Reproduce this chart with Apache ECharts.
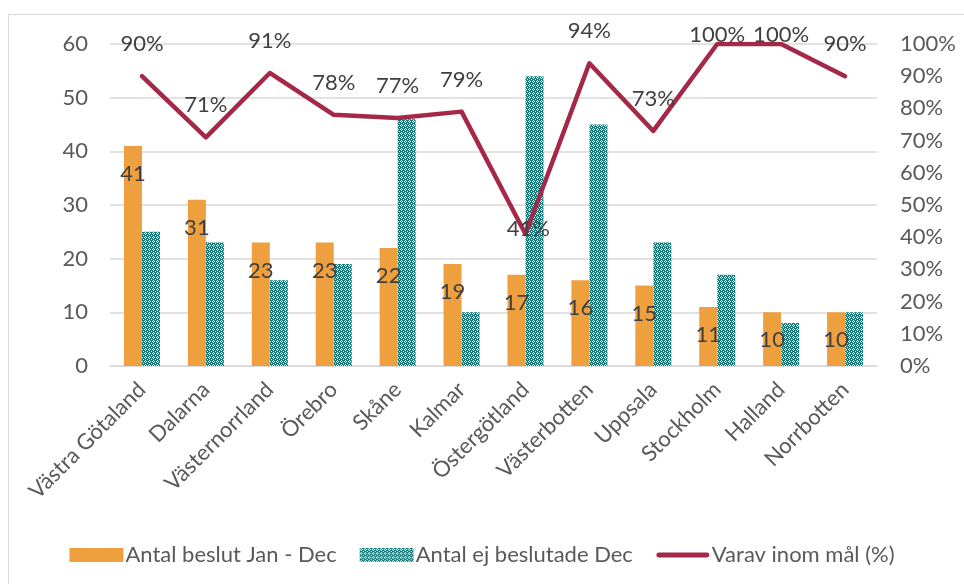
<!DOCTYPE html>
<html>
<head>
<meta charset="utf-8">
<script src="https://cdn.jsdelivr.net/npm/echarts@6/dist/echarts.min.js"></script>
<style>
  html, body { margin: 0; padding: 0; background: #fff; }
  #chart { width: 964px; height: 584px; }
</style>
</head>
<body>
<div id="chart"></div>
<script>
// regions, sorted by number of decisions
var regions = ['Västra Götaland', 'Dalarna', 'Västernorrland', 'Örebro', 'Skåne', 'Kalmar',
               'Östergötland', 'Västerbotten', 'Uppsala', 'Stockholm', 'Halland', 'Norrbotten'];
var beslut = [41, 31, 23, 23, 22, 19, 17, 16, 15, 11, 10, 10];
var ejBeslutade = [25, 23, 16, 19, 46, 10, 54, 45, 23, 17, 8, 10];
var inomMal = [90, 71, 91, 78, 77, 79, 41, 94, 73, 100, 100, 90];

var FONT = 'Lato';
var TXT = '#595959';
var FS = 22;

// checkered teal fill like the excel pattern
function checkerTile() {
    var c = document.createElement('canvas');
    c.width = 4; c.height = 4;
    var ctx = c.getContext('2d');
    ctx.fillStyle = '#15797a';
    ctx.fillRect(0, 0, 4, 4);
    ctx.fillStyle = '#ffffff';
    var holes = [[1, 0], [0, 1], [2, 1], [1, 2], [3, 3]];
    for (var i = 0; i < holes.length; i++) {
        ctx.fillRect(holes[i][0], holes[i][1], 1, 1);
    }
    return c;
}

// excel keeps labels inside the plot: the 100% ones sit lower, the dip label sits on the line
var lineData = [];
for (var i = 0; i < inomMal.length; i++) {
    if (inomMal[i] < 50) {
        lineData.push({ value: inomMal[i], label: { position: [3, -5], align: 'center', verticalAlign: 'middle' } });
    } else if (inomMal[i] >= 100) {
        lineData.push({ value: inomMal[i], label: { position: [0, -9], align: 'center', verticalAlign: 'middle' } });
    } else {
        lineData.push(inomMal[i]);
    }
}

var chart = echarts.init(document.getElementById('chart'));
var option = {
    animation: false,
    textStyle: { fontFamily: FONT, color: TXT },
    graphic: [{
        type: 'rect',
        shape: { x: 8.5, y: 14.5, width: 1000, height: 1000 },
        style: { fill: 'none', stroke: '#d9d9d9', lineWidth: 1 },
        silent: true
    }],
    grid: { left: 110, right: 87, top: 44, bottom: 218 },
    legend: {
        top: 539,
        left: 'center',
        itemWidth: 54,
        itemHeight: 14,
        itemGap: 23,
        textStyle: { fontFamily: FONT, fontSize: FS, color: TXT, padding: [0, 0, 0, -3] },
        data: [
            { name: 'Antal beslut Jan - Dec', icon: 'rect' },
            { name: 'Antal ej beslutade Dec', icon: 'rect' },
            { name: 'Varav inom mål (%)', icon: 'path://M0,0 M56,14 M3,4.5 L53,4.5 A2.5,2.5 0 0 1 53,9.5 L3,9.5 A2.5,2.5 0 0 1 3,4.5 Z' }
        ]
    },
    xAxis: {
        type: 'category',
        data: regions,
        axisLine: { lineStyle: { color: '#d9d9d9', width: 1.5 } },
        axisTick: { show: false },
        axisLabel: {
            rotate: 45,
            interval: 0,
            margin: 20,
            fontFamily: FONT,
            fontSize: FS,
            color: TXT
        }
    },
    yAxis: [{
        type: 'value',
        min: 0,
        max: 60,
        interval: 10,
        axisLine: { show: false },
        axisTick: { show: false },
        splitLine: { lineStyle: { color: '#d9d9d9', width: 1.5 } },
        axisLabel: { margin: 22, fontFamily: FONT, fontSize: FS, color: TXT }
    }, {
        type: 'value',
        min: 0,
        max: 100,
        interval: 10,
        axisLine: { show: false },
        axisTick: { show: false },
        splitLine: { show: false },
        axisLabel: { margin: 23, formatter: '{value}%', fontFamily: FONT, fontSize: FS, color: TXT }
    }],
    series: [{
        name: 'Antal beslut Jan - Dec',
        type: 'bar',
        data: beslut,
        barWidth: 18,
        barGap: '0%',
        itemStyle: { color: '#ee9f3e' },
        label: {
            show: true,
            position: 'insideTop',
            distance: 17,
            fontFamily: FONT,
            fontSize: FS,
            color: '#404040'
        },
        z: 2
    }, {
        name: 'Antal ej beslutade Dec',
        type: 'bar',
        data: ejBeslutade,
        barWidth: 18,
        itemStyle: { color: { image: checkerTile(), repeat: 'repeat' } },
        z: 2
    }, {
        name: 'Varav inom mål (%)',
        type: 'line',
        yAxisIndex: 1,
        data: lineData,
        symbol: 'circle',
        symbolSize: 0.1,
        showSymbol: true,
        lineStyle: { color: '#a52848', width: 4.5, cap: 'round', join: 'round' },
        itemStyle: { color: '#a52848' },
        label: {
            show: true,
            position: 'top',
            distance: 21,
            formatter: '{c}%',
            fontFamily: FONT,
            fontSize: FS,
            color: '#404040'
        },
        labelLayout: { hideOverlap: false },
        z: 3
    }]
};
chart.setOption(option);
</script>
</body>
</html>
